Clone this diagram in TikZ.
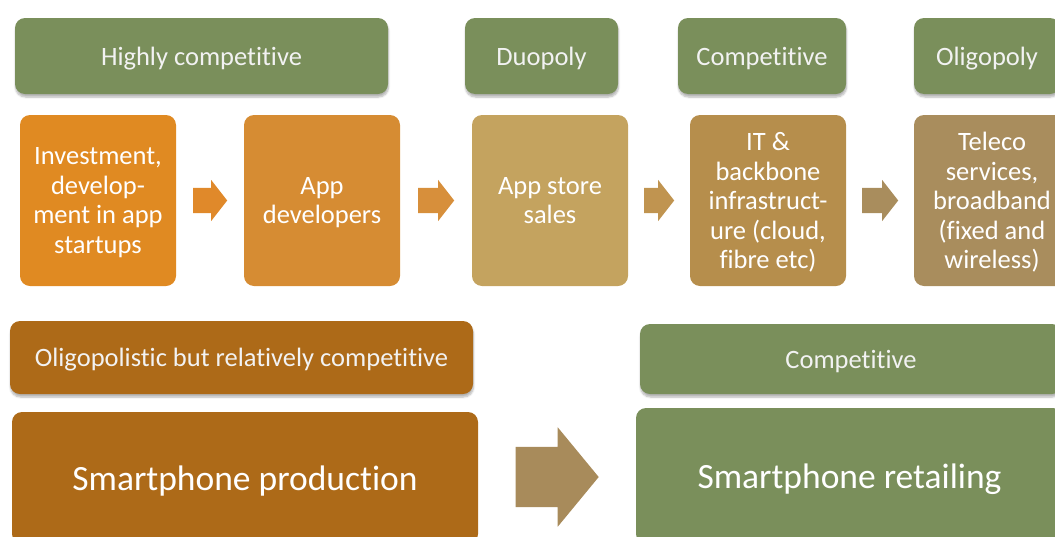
\documentclass[tikz,border=0pt]{standalone}
\usepackage{fontspec}
\setmainfont{Carlito}[Ligatures=NoCommon]
\usetikzlibrary{calc,shapes.arrows,shadows.blur}

\definecolor{tagGreen}{HTML}{7A8F5B}
\definecolor{cInvest}{HTML}{E08A22}
\definecolor{cDev}{HTML}{D68C33}
\definecolor{cStore}{HTML}{C4A35F}
\definecolor{cInfra}{HTML}{B68E4C}
\definecolor{cTeleco}{HTML}{A98D5D}
\definecolor{cProd}{HTML}{AD6A18}
\definecolor{aOne}{HTML}{E0892A}
\definecolor{aTwo}{HTML}{D78F3B}
\definecolor{aThree}{HTML}{C09450}
\definecolor{aFour}{HTML}{A98D5D}
\definecolor{aBig}{HTML}{A88B5B}

\tikzset{
  panel/.style={rectangle, rounded corners=10pt, inner sep=0pt, text=white,
    align=center, text depth=0pt, font=\fontsize{26.5}{29.5}\selectfont},
  tagbox/.style={panel, fill=tagGreen, text=white!95!black,
    blur shadow={shadow xshift=0.5pt, shadow yshift=-3pt, shadow blur steps=6, shadow opacity=30}},
  stagebox/.style={panel},
  bigbox/.style={panel, font=\fontsize{35.5}{40}\selectfont},
  % block arrows: the tail sits half a length left of the gap's middle
  flowarrow/.style={single arrow, draw=none, inner xsep=0pt, inner ysep=12.5pt,
    shape border rotate=0, minimum height=#1, anchor=tail, xshift=-#1/2,
    single arrow head extend=8pt, single arrow tip angle=104},
  flowarrow/.default=34pt,
  bigarrow/.style={single arrow, draw=none, inner xsep=0pt, inner ysep=30pt,
    shape border rotate=0, minimum height=83pt, anchor=tail, xshift=-41.5pt,
    single arrow head extend=19.5pt, single arrow tip angle=101},
}

\begin{document}
\begin{tikzpicture}[x=1pt,y=-1pt]
\useasboundingbox (0,0) rectangle (1055,536);
\clip (0,0) rectangle (1055,536);

% market-structure tags above the value chain
\node[tagbox, minimum width=373pt, minimum height=76pt] (hc)   at (201.5,56) {Highly competitive};
\node[tagbox, minimum width=153pt, minimum height=76pt] (duo)  at (541.5,56) {Duopoly};
\node[tagbox, minimum width=168pt, minimum height=76pt] (comp) at (762,56)   {Competitive};
\node[tagbox, minimum width=146pt, minimum height=76pt] (olig) at (987,56)   {Oligopoly};

% value-chain stages
\node[stagebox, fill=cInvest, minimum width=156pt, minimum height=171pt] (inv) at (98,200.5)
  {Investment,\\develop-\\ment in app\\startups};
\node[stagebox, fill=cDev, minimum width=156pt, minimum height=171pt] (dev) at (322,200.5)
  {App\\developers};
\node[stagebox, fill=cStore, minimum width=156pt, minimum height=171pt] (store) at (550,200.5)
  {App store\\sales};
\node[stagebox, fill=cInfra, minimum width=156pt, minimum height=171pt] (infra) at (768,200.5)
  {IT \&\\backbone\\infrastruct-\\ure (cloud,\\fibre etc)};
\node[stagebox, fill=cTeleco, minimum width=156pt, minimum height=171pt] (tel) at (992,200.5)
  {Teleco\\services,\\broadband\\(fixed and\\wireless)};

% arrows between stages
\node[flowarrow, fill=aOne]         (a1) at ($(inv.east)!0.5!(dev.west)$) {};
\node[flowarrow=36pt, fill=aTwo]    (a2) at ($(dev.east)!0.5!(store.west)$) {};
\node[flowarrow=30pt, fill=aThree]  (a3) at ($(store.east)!0.5!(infra.west)$) {};
\node[flowarrow=36pt, fill=aFour]   (a4) at ($(infra.east)!0.5!(tel.west)$) {};

% handset tier
\node[tagbox, fill=cProd, minimum width=463pt, minimum height=73pt] (oltag) at (241.5,357.5)
  {Oligopolistic but relatively competitive};
\node[tagbox, minimum width=422pt, minimum height=70pt] (comp2) at (851,359) {Competitive};

\node[bigbox, fill=cProd, minimum width=466pt, minimum height=132pt] (prod) at (245,478)
  {Smartphone production};
\node[bigbox, fill=tagGreen, minimum width=427pt, minimum height=136pt] (retail) at (849.5,476)
  {Smartphone retailing};

\node[bigarrow, fill=aBig] (a5) at ($(prod.east)!0.5!(retail.west)$) {};
\end{tikzpicture}
\end{document}
